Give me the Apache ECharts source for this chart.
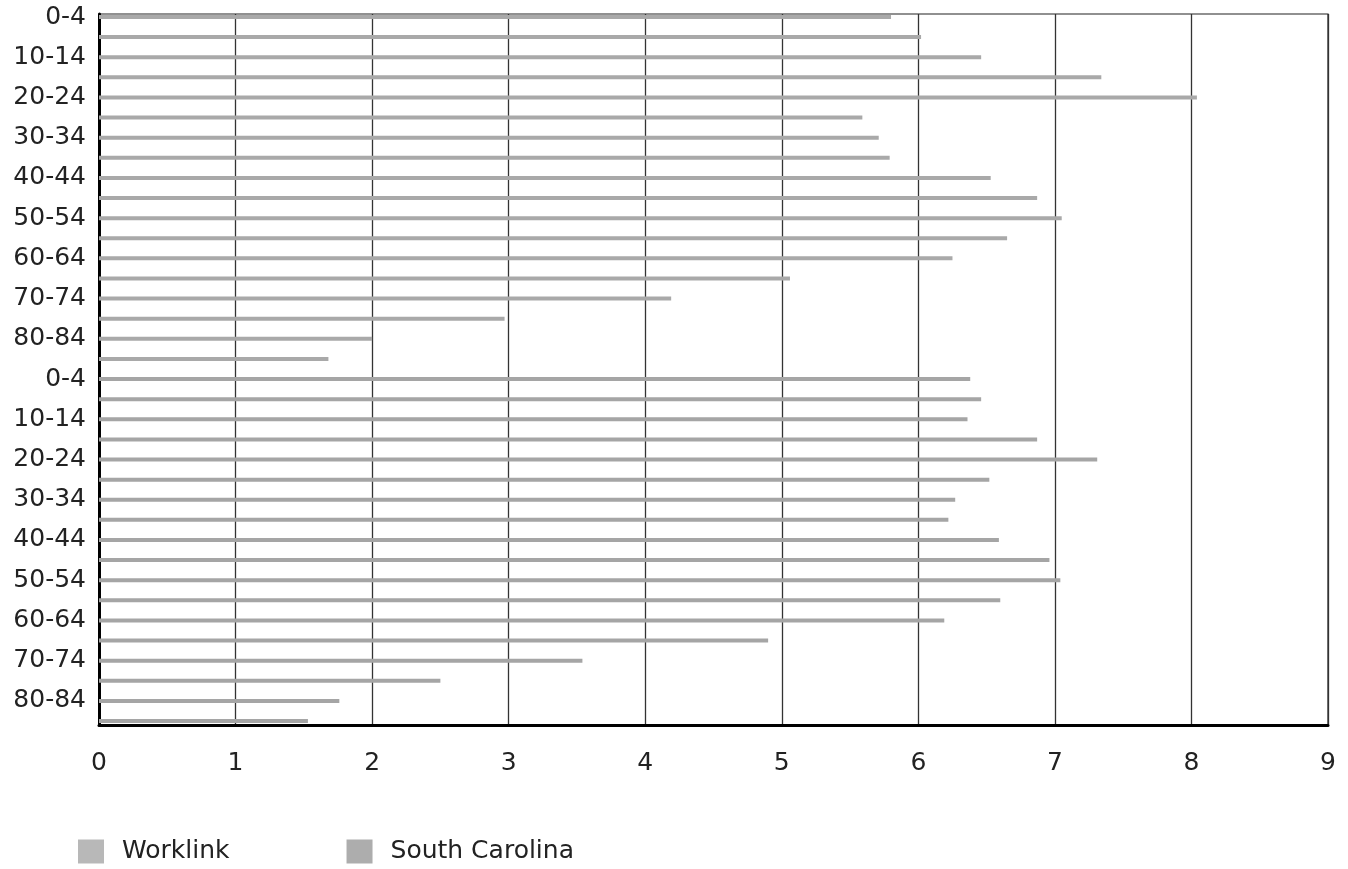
<!DOCTYPE html>
<html>
<head>
<meta charset="utf-8">
<script src="https://cdn.jsdelivr.net/npm/echarts@6/dist/echarts.min.js"></script>
<style>
html,body{margin:0;padding:0;background:#fff;}
#chart{width:1348px;height:869px;}
</style>
</head>
<body>
<div id="chart"></div>
<script>
const ageGroups = ['0-4','5-9','10-14','15-19','20-24','25-29','30-34','35-39','40-44','45-49','50-54','55-59','60-64','65-69','70-74','75-79','80-84','85+'];
const worklink = [5.80,6.02,6.46,7.34,8.04,5.59,5.71,5.79,6.53,6.87,7.05,6.65,6.25,5.06,4.19,2.97,2.00,1.68];
const southCarolina = [6.38,6.46,6.36,6.87,7.31,6.52,6.27,6.22,6.59,6.96,7.04,6.60,6.19,4.90,3.54,2.50,1.76,1.53];
const xTicks = [0,1,2,3,4,5,6,7,8,9];

const categories = ageGroups.concat(ageGroups);
const empty = ageGroups.map(() => '-');
const worklinkData = worklink.concat(empty);
const scData = empty.concat(southCarolina);

const FONT = 'DejaVu Sans, Liberation Sans, Arial, sans-serif';
const xMin = xTicks[0], xMax = xTicks[xTicks.length - 1];

const chart = echarts.init(document.getElementById('chart'));
chart.setOption({
  animation: false,
  backgroundColor: '#ffffff',
  textStyle: { fontFamily: FONT },
  grid: [
    { left: 99, right: 20, top: 17, bottom: 148, show: false },
    { left: 99, right: 20, top: 14, bottom: 144, show: true, borderColor: '#222', borderWidth: 1.2, z: 0 }
  ],
  xAxis: [
    { gridIndex: 0, type: 'value', min: xMin, max: xMax, interval: 1, show: false,
      splitLine: { show: false } },
    { gridIndex: 1, type: 'value', min: xMin, max: xMax, interval: 1,
      axisLine: { show: true, onZero: false, lineStyle: { color: '#000', width: 3 } },
      axisTick: { show: false },
      axisLabel: { color: '#222', fontSize: 25, margin: 26, fontFamily: FONT },
      splitLine: { show: true, lineStyle: { color: '#333', width: 1.3 } } }
  ],
  yAxis: [
    { gridIndex: 0, type: 'category', data: categories, inverse: true, boundaryGap: false,
      axisLine: { show: false },
      axisTick: { show: false },
      axisLabel: { interval: 1, color: '#222', fontSize: 25, margin: 13, fontFamily: FONT },
      splitLine: { show: false } },
    { gridIndex: 1, type: 'value', min: 0, max: 1,
      axisLine: { show: true, onZero: false, lineStyle: { color: '#000', width: 3 } },
      axisTick: { show: false }, axisLabel: { show: false }, splitLine: { show: false } }
  ],
  legend: {
    left: 78, top: 839, padding: 0, itemWidth: 26, itemHeight: 24, itemGap: 117,
    textStyle: { fontSize: 25, color: '#222', padding: [0,0,0,13], fontFamily: FONT },
    data: [
      { name: 'Worklink', icon: 'rect', itemStyle: { color: '#b8b8b8' } },
      { name: 'South Carolina', icon: 'rect', itemStyle: { color: '#adadad' } }
    ]
  },
  series: [
    { name: 'Worklink', type: 'bar', xAxisIndex: 0, yAxisIndex: 0, data: worklinkData,
      barWidth: 4, barGap: '-100%', itemStyle: { color: '#a9a9a9' } },
    { name: 'South Carolina', type: 'bar', xAxisIndex: 0, yAxisIndex: 0, data: scData,
      barWidth: 4, barGap: '-100%', itemStyle: { color: '#a5a5a5' } }
  ]
});
</script>
</body>
</html>
